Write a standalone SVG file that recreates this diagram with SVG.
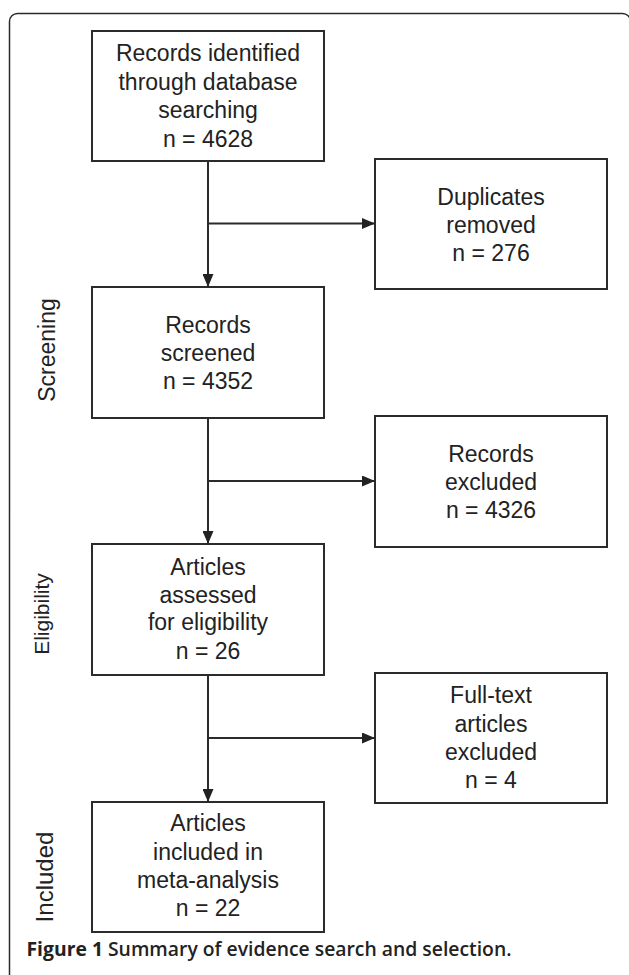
<svg xmlns="http://www.w3.org/2000/svg" width="629" height="975" viewBox="0 0 629 975">
<style>
.box{fill:#fff;stroke:#2b2b2b;stroke-width:2}
.t{font-family:"Liberation Sans",Arial,sans-serif;font-size:23px;fill:#222;text-anchor:middle}
.side{font-family:"Liberation Sans",Arial,sans-serif;fill:#222;text-anchor:middle}
.conn{stroke:#2b2b2b;stroke-width:2;fill:none}
.cap{font-family:"Open Sans","Noto Sans",sans-serif;font-size:20px;fill:#222}
</style>
<defs>
<marker id="ah" markerUnits="userSpaceOnUse" markerWidth="13" markerHeight="11" refX="13" refY="5.5" orient="auto">
<path d="M0,0 L13,5.5 L0,11 z" fill="#222"/>
</marker>
</defs>
<rect x="9.5" y="13.5" width="621" height="1000" rx="8" fill="#fff" stroke="#2b2b2b" stroke-width="1.5"/>
<g id="labels">
<text class="side" font-size="23" transform="translate(55,350) rotate(-90)">Screening</text>
<text class="side" font-size="21" transform="translate(49,614) rotate(-90)">Eligibility</text>
<text class="side" font-size="24" transform="translate(53,877) rotate(-90)">Included</text>
</g>
<g id="connectors">
<line class="conn" x1="208" y1="161" x2="208" y2="287" marker-end="url(#ah)"/>
<line class="conn" x1="208" y1="223.5" x2="375" y2="223.5" marker-end="url(#ah)"/>
<line class="conn" x1="208" y1="418" x2="208" y2="544" marker-end="url(#ah)"/>
<line class="conn" x1="208" y1="481" x2="375" y2="481" marker-end="url(#ah)"/>
<line class="conn" x1="208" y1="675" x2="208" y2="802" marker-end="url(#ah)"/>
<line class="conn" x1="208" y1="738" x2="375" y2="738" marker-end="url(#ah)"/>
</g>
<g id="identified">
<rect class="box" x="92" y="31" width="232" height="130"/>
<text class="t" x="208" y="60.5">Records identified</text>
<text class="t" x="208" y="89.5">through database</text>
<text class="t" x="208" y="118">searching</text>
<text class="t" x="208" y="146.5">n = 4628</text>
</g>
<g id="duplicates">
<rect class="box" x="375" y="159" width="232" height="130"/>
<text class="t" x="491" y="205">Duplicates</text>
<text class="t" x="491" y="233">removed</text>
<text class="t" x="491" y="261">n = 276</text>
</g>
<g id="screened">
<rect class="box" x="92" y="287" width="232" height="131"/>
<text class="t" x="208" y="332.5">Records</text>
<text class="t" x="208" y="360.5">screened</text>
<text class="t" x="208" y="389">n = 4352</text>
</g>
<g id="excluded">
<rect class="box" x="375" y="416" width="232" height="131"/>
<text class="t" x="491" y="461.5">Records</text>
<text class="t" x="491" y="489.5">excluded</text>
<text class="t" x="491" y="517.5">n = 4326</text>
</g>
<g id="assessed">
<rect class="box" x="92" y="544" width="232" height="131"/>
<text class="t" x="208" y="575">Articles</text>
<text class="t" x="208" y="602.5">assessed</text>
<text class="t" x="208" y="630">for eligibility</text>
<text class="t" x="208" y="658.5">n = 26</text>
</g>
<g id="fulltext">
<rect class="box" x="375" y="673" width="232" height="130"/>
<text class="t" x="491" y="703">Full-text</text>
<text class="t" x="491" y="731.5">articles</text>
<text class="t" x="491" y="759.5">excluded</text>
<text class="t" x="491" y="787.5">n = 4</text>
</g>
<g id="included">
<rect class="box" x="92" y="802" width="232" height="130"/>
<text class="t" x="208" y="831">Articles</text>
<text class="t" x="208" y="859.5">included in</text>
<text class="t" x="208" y="887.5">meta-analysis</text>
<text class="t" x="208" y="916">n = 22</text>
</g>
<text class="cap" x="26.5" y="955.5" textLength="485" lengthAdjust="spacingAndGlyphs"><tspan font-weight="700">Figure 1 </tspan><tspan font-weight="600">Summary of evidence search and selection.</tspan></text>
</svg>
